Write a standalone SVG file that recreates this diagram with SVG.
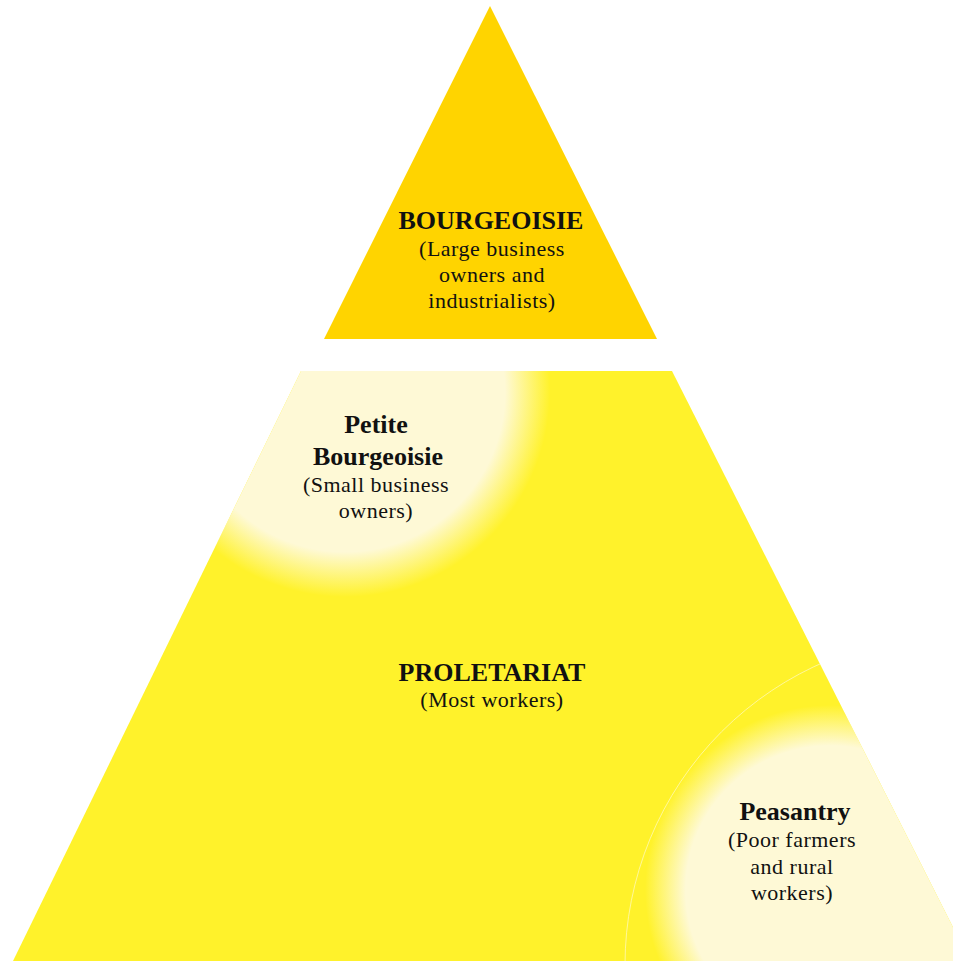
<svg xmlns="http://www.w3.org/2000/svg" width="953" height="961" viewBox="0 0 953 961">
<style>
.h{font-family:"Liberation Serif","DejaVu Serif",serif;font-weight:bold;font-size:26px;fill:#111;text-anchor:middle}
.s{font-family:"Liberation Serif","DejaVu Serif",serif;font-size:22px;letter-spacing:0.5px;fill:#111;text-anchor:middle}
</style>
<defs>
<radialGradient id="glow">
<stop offset="0" stop-color="#FEF9D6"/>
<stop offset="0.78" stop-color="#FEF9D6"/>
<stop offset="1" stop-color="#FEF9D6" stop-opacity="0"/>
</radialGradient>
<clipPath id="trap"><polygon points="301,371 672,371 970,961 13,961"/></clipPath>
</defs>
<rect width="953" height="961" fill="#fff"/>
<g id="bourgeoisie">
<polygon points="490,6 657,339 324,339" fill="#FFD400"/>
<text class="h" x="491" y="229">BOURGEOISIE</text>
<text class="s" x="492" y="256">(Large business</text>
<text class="s" x="492" y="282">owners and</text>
<text class="s" x="492" y="308">industrialists)</text>
</g>
<g id="proletariat">
<polygon points="301,371 672,371 970,961 13,961" fill="#FFF22B"/>
<text class="h" x="492" y="681">PROLETARIAT</text>
<text class="s" x="492" y="707">(Most workers)</text>
</g>
<g id="petite-bourgeoisie" clip-path="url(#trap)">
<circle cx="345" cy="392" r="205" fill="url(#glow)"/>
<text class="h" x="376" y="433">Petite</text>
<text class="h" x="378" y="465">Bourgeoisie</text>
<text class="s" x="376" y="492">(Small business</text>
<text class="s" x="376" y="518">owners)</text>
</g>
<g id="peasantry" clip-path="url(#trap)">
<circle cx="955" cy="965" r="330" fill="none" stroke="#FFF9C8" stroke-width="1" opacity="0.7"/>
<circle cx="830" cy="890" r="185" fill="url(#glow)"/>
<text class="h" x="795" y="820">Peasantry</text>
<text class="s" x="792" y="847">(Poor farmers</text>
<text class="s" x="792" y="874">and rural</text>
<text class="s" x="792" y="900">workers)</text>
</g>
</svg>
